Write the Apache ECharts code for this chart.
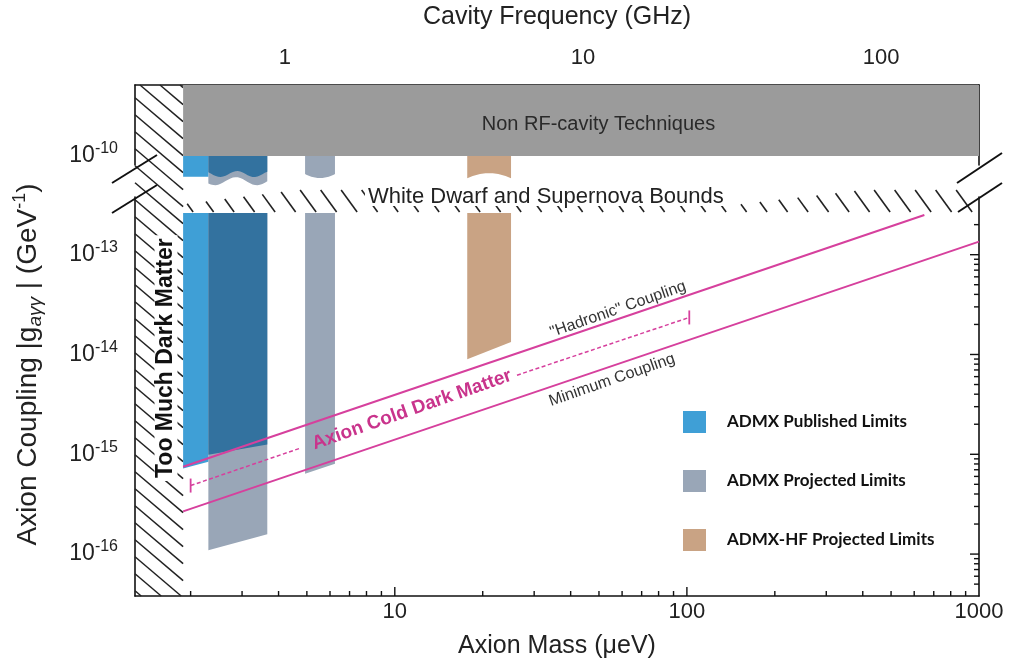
<!DOCTYPE html>
<html><head><meta charset="utf-8">
<script src="https://cdn.jsdelivr.net/npm/echarts@6/dist/echarts.min.js"></script>
<style>html,body{margin:0;padding:0;background:#fff}#c{width:1013px;height:664px}</style>
</head><body><div id="c"></div>
<script>
// ================= DATA =================
// axis tick values
const massMajorTicks = [10, 100];
const massMinorTicks = [2,3,4,5,6,7,8,9,20,30,40,50,60,70,80,90,200,300,400,500,600,700,800,900];
const couplingMajorTicks = [1e-16, 1e-15, 1e-14, 1e-13];
const couplingMinorTicks = [5e-17,6e-17,7e-17,8e-17,9e-17,
  2e-16,3e-16,4e-16,5e-16,6e-16,7e-16,8e-16,9e-16,
  2e-15,3e-15,4e-15,5e-15,6e-15,7e-15,8e-15,9e-15,
  2e-14,3e-14,4e-14,5e-14,6e-14,7e-14,8e-14,9e-14, 2e-13];

// exclusion / projection regions: [massLow (ueV), massHigh, coupling bottom at massLow, at massHigh]
const publishedRegions = [[1.885, 2.30, 7.2e-16, 8.4e-16]];
const publishedOverlapRegions = [[2.30, 3.66, 9.9e-16, 1.25e-15]];
const projectedRegions = [[2.30, 3.66, 1.09e-16, 1.58e-16], [4.93, 6.24, 6.4e-16, 8.05e-16]];
const hfRegions = [[17.7, 25.0, 8.97e-15, 1.33e-14]];

// upper (broken) panel continuation of the same regions: [massLow, massHigh, coupling of ragged bottom]
const publishedStubs = [[1.885, 2.30, 6.2e-11]];
const publishedOverlapStubs = [[2.30, 3.66, 6.6e-11]];
const projectedStubs = [[2.30, 3.66, 5.6e-11], [4.93, 6.24, 6.6e-11]];
const hfStubs = [[17.7, 25.0, 6.0e-11]];

// bounds
const tooMuchDMMass = 1.885;       // ueV, left hatched region edge
const nonRFLower = 1e-10;          // GeV^-1, Non RF-cavity techniques lower edge
const wdBound = 2.62e-13;          // white dwarf / supernova bound (lower panel top)
const wdBandTop = 4.45e-13;

// theory lines [mass, coupling]
const hadronicLine = [[1.885, 7.5e-16], [650, 2.5e-13]];
const minimumLine = [[1.885, 2.68e-16], [1000, 1.35e-13]];
const dashedLineA = [[2.0, 4.86e-16], [4.74, 1.15e-15]];
const dashedLineB = [[26.2, 6.2e-15], [101.9, 2.35e-14]];
const dashedCaps = [[2.0, 4.86e-16], [101.9, 2.35e-14]];

// axis ranges
const massMin = 1.29, massMax = 1000;
const freqMin = 0.314, freqMax = 213;
const gLowMin = Math.pow(10, -16.42), gLowMax = Math.pow(10, -12.422);
const gHighMin = Math.pow(10, -10.09), gHighMax = Math.pow(10, -9.29);

// annotations anchored in data coordinates
const annotationsLow = [
  {text: 'Axion Cold Dark Matter', at: [11.45, 2.79e-15], angle: 19.3, size: 19, weight: 'bold', color: '#C9348C', bg: null},
  {text: '"Hadronic" Coupling', at: [58.1, 2.83e-14], angle: 19.3, size: 16, weight: 'normal', color: '#333', bg: null},
  {text: 'Minimum Coupling', at: [55.4, 5.55e-15], angle: 19.3, size: 16, weight: 'normal', color: '#333', bg: null},
  {text: 'White Dwarf and Supernova Bounds', at: [32.9, 3.75e-13], angle: 0, size: 22, weight: 'normal', color: '#222', bg: '#fff', lh: 17},
  {text: 'Too Much Dark Matter', at: [1.647, 9.2e-15], angle: 90, size: 23, weight: 'bold', color: '#111', bg: '#fff'}
];
const annotationsHigh = [
  {text: 'Non RF-cavity Techniques', at: [49.8, 2.09e-10], angle: 0, size: 20, weight: 'normal', color: '#2a2a2a', bg: null}
];

// ================= STYLE =================
const FONT = '"Liberation Sans", Arial, Helvetica, sans-serif';
const MAG = '#D6409D';
const C_PUB = '#3F9FD6', C_PUB_DARK = '#33729F', C_PROJ = '#99A6B7', C_HF = '#C9A384', C_NONRF = '#9B9B9B';
const INK = '#111';
const LEFT = 135, RIGHT = 34;

function isPow10(v) { const e = Math.log10(v); return Math.abs(e - Math.round(e)) < 1e-6; }
function expLabel(v) { if (!isPow10(v)) return ''; return '{b|10}{s|' + Math.round(Math.log10(v)) + '}'; }
const expRich = {b: {fontSize: 23, fontFamily: FONT, color: '#222', lineHeight: 30},
                 s: {fontSize: 16, fontFamily: FONT, color: '#222', verticalAlign: 'top', lineHeight: 16}};

function hatch(x0, y0, x1, y1, slope, spacing, style) {
  const els = [];
  const cMin = y0 - slope * x1, cMax = y1 - slope * x0;
  for (let c = Math.ceil(cMin / spacing) * spacing; c <= cMax; c += spacing) {
    const xa = Math.max(x0, (y0 - c) / slope), xb = Math.min(x1, (y1 - c) / slope);
    if (xb - xa > 0.5) els.push({type: 'line', shape: {x1: xa, y1: slope * xa + c, x2: xb, y2: slope * xb + c}, style});
  }
  return els;
}
const hatchStyle = {stroke: '#222', lineWidth: 1.5};

function regionSeries(name, regions, color, z) {
  return {
    type: 'custom', name, xAxisIndex: 0, yAxisIndex: 0, z, itemStyle: {color}, silent: true,
    data: regions.map(r => [r[0], r[2], r[1], r[3]]),
    renderItem(params, api) {
      const m1 = api.value(0), g1 = api.value(1), m2 = api.value(2), g2 = api.value(3);
      const a = api.coord([m1, wdBound]), b = api.coord([m2, wdBound]);
      const c = api.coord([m2, g2]), d = api.coord([m1, g1]);
      return {type: 'polygon', shape: {points: [a, b, c, d]}, style: {fill: color}};
    }
  };
}
// ragged bottom of the broken-axis continuation
function stubSeries(name, stubs, color, z, wave) {
  return {
    type: 'custom', name, xAxisIndex: 1, yAxisIndex: 2, z, itemStyle: {color}, silent: true,
    data: stubs.map((s, i) => [s[0], s[2], s[1], i]),
    renderItem(params, api) {
      const m1 = api.value(0), gb = api.value(1), m2 = api.value(2), idx = api.value(3);
      const a = api.coord([m1, nonRFLower]), b = api.coord([m2, nonRFLower]);
      const yb = api.coord([m1, gb])[1];
      const w = wave[idx] || wave[0];
      const pts = [a, b];
      const n = 24;
      for (let k = n; k >= 0; k--) {
        const t = k / n, x = a[0] + (b[0] - a[0]) * t;
        let y = yb;
        if (w.kind === 'sin') y = yb + w.amp * Math.sin(2 * Math.PI * (x - a[0]) / w.period + w.phase);
        else if (w.kind === 'u') y = yb + w.amp * (1 - Math.pow(2 * t - 1, 2));
        else if (w.kind === 'hump') y = yb - w.amp * (1 - Math.pow(2 * t - 1, 2));
        pts.push([x, y]);
      }
      return {type: 'polygon', shape: {points: pts}, style: {fill: color}};
    }
  };
}
function annotationSeries(list, xi, yi) {
  return {
    type: 'custom', xAxisIndex: xi, yAxisIndex: yi, z: 20, silent: true,
    data: list.map((a, i) => [a.at[0], a.at[1], i]),
    renderItem(params, api) {
      const a = list[api.value(2)];
      const p = api.coord([api.value(0), api.value(1)]);
      const st = {text: a.text, fill: a.color, fontSize: a.size, fontWeight: a.weight, fontFamily: FONT,
                  align: 'center', verticalAlign: 'middle'};
      if (a.lh) st.lineHeight = a.lh;
      if (a.bg) { st.backgroundColor = a.bg; st.padding = [0, 3]; }
      return {type: 'text', x: p[0], y: p[1], rotation: a.angle * Math.PI / 180, style: st};
    }
  };
}

const tickData = []
  .concat(massMinorTicks.map(v => [v, gLowMin, 0]))
  .concat(massMajorTicks.map(v => [v, gLowMin, 1]))
  .concat(couplingMinorTicks.map(v => [massMax, v, 2]))
  .concat(couplingMajorTicks.map(v => [massMax, v, 3]));

const series = [
  // left hatched "too much dark matter" – lower panel
  {type: 'custom', xAxisIndex: 0, yAxisIndex: 0, z: 1, silent: true, data: [[tooMuchDMMass, gLowMin]],
   renderItem(params, api) {
     const cs = params.coordSys, xr = api.coord([tooMuchDMMass, gLowMin])[0];
     return {type: 'group', children: hatch(cs.x, cs.y - 16, xr, cs.y + cs.height, 0.85, 17, hatchStyle)};
   }},
  // left hatched – upper panel
  {type: 'custom', xAxisIndex: 1, yAxisIndex: 2, z: 1, silent: true, data: [[tooMuchDMMass, gHighMin]],
   renderItem(params, api) {
     const cs = params.coordSys, xr = api.coord([tooMuchDMMass, gHighMin])[0];
     return {type: 'group', children: hatch(cs.x, cs.y, xr, cs.y + cs.height + 16, 0.85, 17, hatchStyle)};
   }},
  // white dwarf & supernova band
  {type: 'custom', xAxisIndex: 0, yAxisIndex: 0, z: 1, silent: true, data: [[tooMuchDMMass, wdBound]],
   renderItem(params, api) {
     const cs = params.coordSys;
     const x0 = api.coord([tooMuchDMMass, wdBound])[0], x1 = cs.x + cs.width;
     const yb = api.coord([tooMuchDMMass, wdBound])[1] - 1, yt = api.coord([tooMuchDMMass, wdBandTop])[1];
     const full = yb - yt, els = [];
     for (let x = x0 + 10; x < x1 - 4; x += 20.5) {
       let h = full;
       if (x < x0 + 130) h = 7 + (full - 7) * (x - x0) / 130;
       else if (x > 730 && x < 880) h = 6 + (full - 6) * (x - 730) / 150;
       els.push({type: 'line', shape: {x1: x - h / 1.375, y1: yb - h, x2: x, y2: yb}, style: {stroke: '#222', lineWidth: 1.6}});
     }
     return {type: 'group', children: els};
   }},
  // non RF-cavity techniques band (upper panel)
  {type: 'custom', xAxisIndex: 1, yAxisIndex: 2, z: 2, silent: true, data: [[tooMuchDMMass, nonRFLower]],
   renderItem(params, api) {
     const cs = params.coordSys;
     const p = api.coord([tooMuchDMMass, nonRFLower]);
     return {type: 'rect', shape: {x: p[0], y: cs.y, width: cs.x + cs.width - p[0], height: p[1] - cs.y}, style: {fill: C_NONRF}};
   }},
  regionSeries('ADMX Published Limits', publishedRegions, C_PUB, 4),
  regionSeries('ADMX Projected Limits', projectedRegions, C_PROJ, 3),
  regionSeries('ADMX Published Limits', publishedOverlapRegions, C_PUB_DARK, 5),
  regionSeries('ADMX-HF Projected Limits', hfRegions, C_HF, 4),
  stubSeries('ADMX Published Limits', publishedStubs, C_PUB, 4, [{kind: 'flat'}]),
  stubSeries('ADMX Projected Limits', projectedStubs, C_PROJ, 3, [{kind: 'sin', amp: 4, period: 42, phase: 0.6}, {kind: 'u', amp: 4}]),
  stubSeries('ADMX Published Limits', publishedOverlapStubs, C_PUB_DARK, 5, [{kind: 'sin', amp: 3, period: 34, phase: -0.6}]),
  stubSeries('ADMX-HF Projected Limits', hfStubs, C_HF, 4, [{kind: 'hump', amp: 5}]),
  // theory lines
  {type: 'line', xAxisIndex: 0, yAxisIndex: 0, z: 8, data: hadronicLine, symbol: 'none', silent: true, lineStyle: {color: MAG, width: 2}},
  {type: 'line', xAxisIndex: 0, yAxisIndex: 0, z: 8, data: minimumLine, symbol: 'none', silent: true, lineStyle: {color: MAG, width: 2}},
  {type: 'line', xAxisIndex: 0, yAxisIndex: 0, z: 8, data: dashedLineA, symbol: 'none', silent: true, lineStyle: {color: MAG, width: 1.5, type: [4, 2.5]}},
  {type: 'line', xAxisIndex: 0, yAxisIndex: 0, z: 8, data: dashedLineB, symbol: 'none', silent: true, lineStyle: {color: MAG, width: 1.5, type: [4, 2.5]}},
  {type: 'custom', xAxisIndex: 0, yAxisIndex: 0, z: 8, silent: true, data: dashedCaps,
   renderItem(params, api) {
     const p = api.coord([api.value(0), api.value(1)]);
     return {type: 'line', shape: {x1: p[0], y1: p[1] - 7, x2: p[0], y2: p[1] + 7}, style: {stroke: MAG, lineWidth: 1.8}};
   }},
  // axis ticks (inward)
  {type: 'custom', xAxisIndex: 0, yAxisIndex: 0, z: 9, silent: true, data: tickData,
   renderItem(params, api) {
     const p = api.coord([api.value(0), api.value(1)]), k = api.value(2);
     const len = (k === 1 || k === 3) ? 9 : 5;
     const shape = k < 2 ? {x1: p[0], y1: p[1], x2: p[0], y2: p[1] - len} : {x1: p[0], y1: p[1], x2: p[0] - len, y2: p[1]};
     return {type: 'line', shape, style: {stroke: INK, lineWidth: 1.4}};
   }},
  annotationSeries(annotationsLow, 0, 0),
  annotationSeries(annotationsHigh, 1, 2)
];

const axisLine = {show: true, lineStyle: {color: INK, width: 1.6}};
const option = {
  animation: false,
  backgroundColor: '#fff',
  grid: [
    {left: LEFT, right: RIGHT, top: 85, height: 80},
    {left: LEFT, right: RIGHT, top: 197, bottom: 66}
  ],
  xAxis: [
    {type: 'log', gridIndex: 1, min: massMin, max: massMax, position: 'bottom', axisLine,
     axisTick: {show: false}, splitLine: {show: false},
     axisLabel: {formatter: v => (isPow10(v) && v >= 10) ? String(Math.round(v)) : '', fontSize: 22, fontFamily: FONT, color: '#222', margin: 5, showMaxLabel: true},
     name: 'Axion Mass (μeV)', nameLocation: 'middle', nameGap: 38,
     nameTextStyle: {fontSize: 25, fontFamily: FONT, color: '#222'}},
    {type: 'log', gridIndex: 0, min: massMin, max: massMax, show: false},
    {type: 'log', gridIndex: 0, min: freqMin, max: freqMax, position: 'top', axisLine,
     axisTick: {show: false}, splitLine: {show: false},
     axisLabel: {formatter: v => isPow10(v) ? String(Math.round(v)) : '', fontSize: 22, fontFamily: FONT, color: '#222', margin: 16},
     name: 'Cavity Frequency (GHz)', nameLocation: 'middle', nameGap: 55,
     nameTextStyle: {fontSize: 25, fontFamily: FONT, color: '#222'}}
  ],
  yAxis: [
    {type: 'log', gridIndex: 1, min: gLowMin, max: gLowMax, position: 'left', axisLine,
     axisTick: {show: false}, splitLine: {show: false},
     axisLabel: {formatter: expLabel, rich: expRich, margin: 17},
     name: '{n|Axion Coupling |g}{sub|aγγ}{n| | (GeV}{sup|-1}{n|)}', nameLocation: 'middle', nameGap: 90, nameRotate: 90,
     nameTextStyle: {fontSize: 28, fontFamily: FONT, color: '#222', padding: [0, 0, 0, 64],
       rich: {n: {fontSize: 28, fontFamily: FONT, color: '#222', lineHeight: 34},
              sub: {fontSize: 19, fontFamily: FONT, color: '#222', fontStyle: 'italic', verticalAlign: 'bottom', lineHeight: 19},
              sup: {fontSize: 18, fontFamily: FONT, color: '#222', verticalAlign: 'top', lineHeight: 18}}}},
    {type: 'log', gridIndex: 1, min: gLowMin, max: gLowMax, position: 'right', axisLine,
     axisTick: {show: false}, splitLine: {show: false}, axisLabel: {show: false}},
    {type: 'log', gridIndex: 0, min: gHighMin, max: gHighMax, position: 'left', axisLine,
     axisTick: {show: false}, splitLine: {show: false},
     axisLabel: {formatter: expLabel, rich: expRich, margin: 17}},
    {type: 'log', gridIndex: 0, min: gHighMin, max: gHighMax, position: 'right', axisLine,
     axisTick: {show: false}, splitLine: {show: false}, axisLabel: {show: false}}
  ],
  legend: {
    data: ['ADMX Published Limits', 'ADMX Projected Limits', 'ADMX-HF Projected Limits'],
    orient: 'vertical', left: 678, top: 406, itemWidth: 23, itemHeight: 22, itemGap: 37, icon: 'rect',
    selectedMode: false,
    textStyle: {fontFamily: 'Lato, "Open Sans", sans-serif', fontWeight: 'bold', fontSize: 17, color: '#111', padding: [0, 0, 0, 16]}
  },
  graphic: (function () {
    const xr = 1013 - RIGHT, st = {stroke: INK, lineWidth: 2};
    return [
      {type: 'line', shape: {x1: LEFT - 23, y1: 183, x2: LEFT + 22, y2: 155}, style: st, z: 50},
      {type: 'line', shape: {x1: LEFT - 23, y1: 213, x2: LEFT + 22, y2: 185}, style: st, z: 50},
      {type: 'line', shape: {x1: xr - 22, y1: 183, x2: xr + 23, y2: 153}, style: st, z: 50},
      {type: 'line', shape: {x1: xr - 21, y1: 212, x2: xr + 23, y2: 183}, style: st, z: 50}
    ];
  })(),
  series
};
const chart = echarts.init(document.getElementById('c'));
chart.setOption(option);
</script></body></html>
